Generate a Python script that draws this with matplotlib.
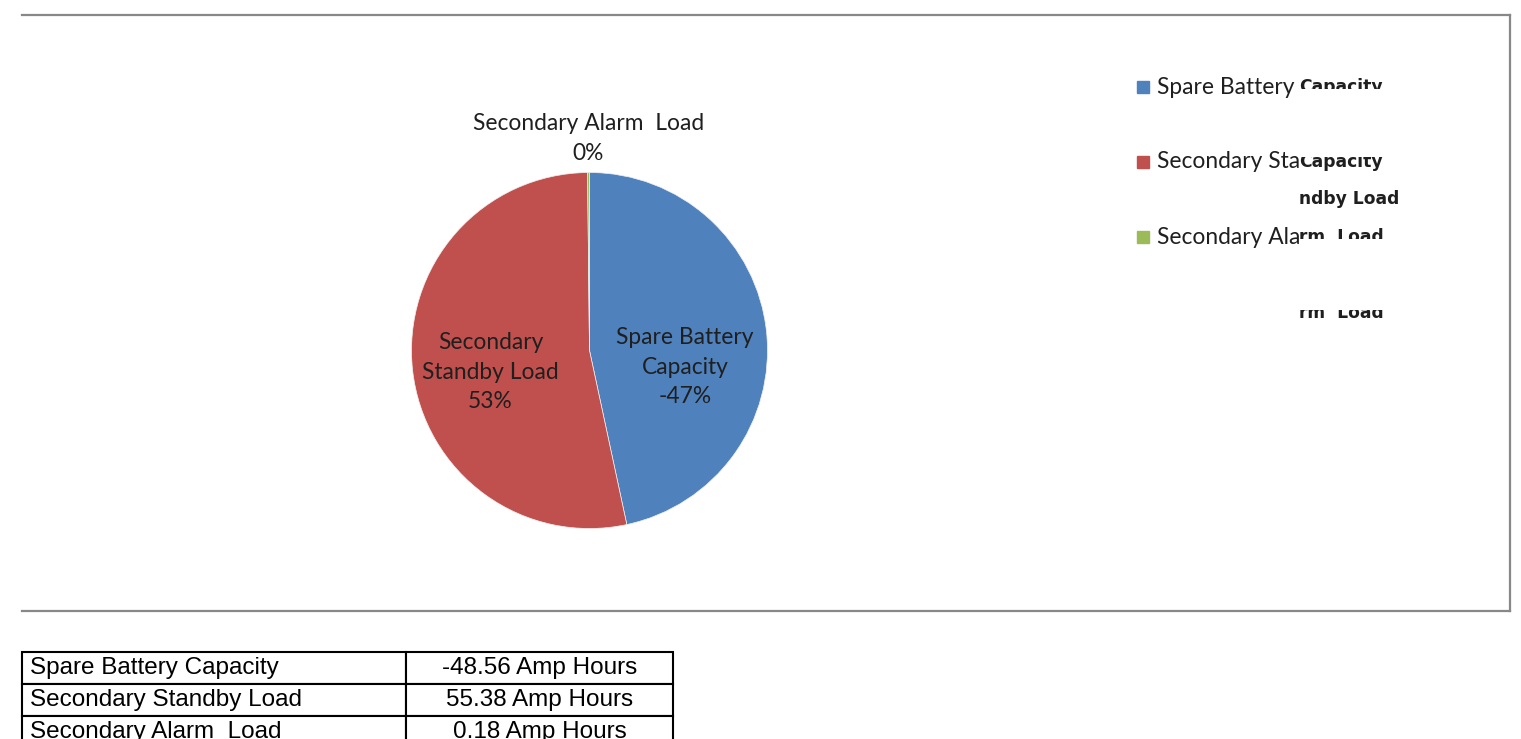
"""Battery capacity pie chart with legend and table below."""

import matplotlib
matplotlib.use("Agg")
from matplotlib import pyplot as plt
from matplotlib.lines import Line2D
from matplotlib.table import Table
from matplotlib.transforms import Bbox
import numpy as np

# --- data ---
labels = ["Spare Battery Capacity", "Secondary Standby Load", "Secondary Alarm  Load"]
pie_labels = ["Spare Battery\nCapacity", "Secondary\nStandby Load", "Secondary Alarm  Load"]
# legend labels as they appear (cut off) in the chart
legend_shown = ["Spare Battery", "Secondary Sta", "Secondary Ala"]
amp_hours = [-48.56, 55.38, 0.18]
colors = ["#4F81BD", "#C0504D", "#9BBB59"]

W, H = 1521, 739
fig = plt.figure(figsize=(W / 100, H / 100), dpi=100)


def fx(px):
    return px / W


def fy(py):
    # image y (from top) -> figure fraction
    return (H - py) / H


# chart area frame (top, right, bottom; no left edge)
frame = "#888888"
fig.add_artist(Line2D([fx(22), fx(1510)], [fy(15), fy(15)], color=frame, lw=1.6))
fig.add_artist(Line2D([fx(22), fx(1510)], [fy(611), fy(611)], color=frame, lw=1.6))
fig.add_artist(Line2D([fx(1510), fx(1510)], [fy(15), fy(611)], color=frame, lw=1.6))

# --- pie ---
cx, cy, r = 589.5, 350.5, 178
ax = fig.add_axes([fx(cx - r), fy(cy + r), 2 * r / W, 2 * r / H])
sizes = np.abs(amp_hours)
total = sizes.sum()
wedges, _ = ax.pie(sizes, colors=colors, startangle=90, counterclock=False,
                   wedgeprops=dict(linewidth=0.5, edgecolor="#f0f0f0"))
ax.set_xlim(-1, 1)
ax.set_ylim(-1, 1)
ax.set_aspect("auto")
ax.axis("off")

label_font = "Lato"
dist = [0.54, 0.56, 1.19]
y_shift = [-0.15, -0.06, 0.0]
for w, lab, val, d, dy in zip(wedges, pie_labels, amp_hours, dist, y_shift):
    pct = val / total * 100
    mid = np.deg2rad((w.theta1 + w.theta2) / 2)
    x, y = d * np.cos(mid), d * np.sin(mid) + dy
    ax.text(x, y, f"{lab}\n{pct:.0f}%", ha="center", va="center",
            fontsize=16.4, family=label_font, color="#1f1f1f",
            linespacing=1.5, clip_on=False)

# --- legend (Excel style, with the clipped / overlapped label rendering) ---
leg_y = [87, 162, 237]
for yy, lab, col in zip(leg_y, legend_shown, colors):
    fig.add_artist(plt.Rectangle((fx(1137), fy(yy + 6)), 12 / W, 12 / H,
                                 color=col, transform=fig.transFigure))
    fig.text(fx(1157), fy(yy), lab, ha="left", va="center", fontsize=16.4,
             family=label_font, color="#1f1f1f")

# stray fragments of the wrapped second lines
frags = [
    ("Capacity", 87, (78, 89)),
    ("Capacity", 162, (157, 176)),
    ("ndby Load", 199, (185, 215)),
    ("rm  Load", 237, (226, 239)),
    ("rm  Load", 313, (310, 326)),
]
for txt, yy, (top, bot) in frags:
    t = fig.text(fx(1299), fy(yy), txt, ha="left", va="center", fontsize=12.3,
                 family="DejaVu Sans", weight="bold", color="#1f1f1f")
    t.set_clip_box(Bbox.from_extents(1297, H - bot, 1420, H - top))
    t.set_clip_on(True)

# --- table below the chart ---
tax = fig.add_axes([fx(22), fy(748), 651 / W, 96 / H])
tax.axis("off")
tb = Table(tax, bbox=[0, 0, 1, 1])
col_w = [384 / 651, 267 / 651]
for i, (lab, val) in enumerate(zip(labels, amp_hours)):
    c0 = tb.add_cell(i, 0, col_w[0], 1 / 3, text=lab, loc="left")
    c1 = tb.add_cell(i, 1, col_w[1], 1 / 3, text=f"{val:.2f} Amp Hours", loc="center")
    for c in (c0, c1):
        c.PAD = 0.022
        c.set_linewidth(1.5)
        c.set_edgecolor("black")
        c.get_text().set_fontfamily("Liberation Sans")
tb.auto_set_font_size(False)
tb.set_fontsize(17.5)
tax.add_table(tb)

fig.savefig("out.png", dpi=100)
